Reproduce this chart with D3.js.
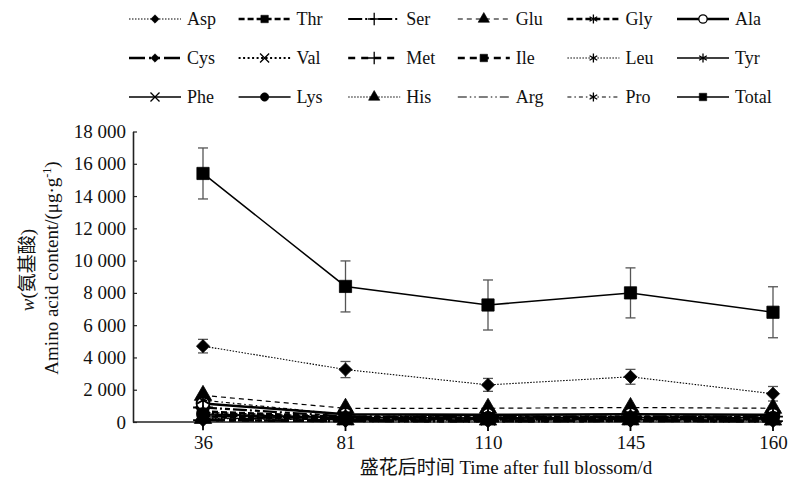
<!DOCTYPE html>
<html>
<head>
<meta charset="utf-8">
<script src="https://cdn.jsdelivr.net/npm/d3@7"></script>
<style>
  body { margin: 0; background: #fff; }
  text { font-family: "Liberation Serif", "Noto Sans CJK SC", serif; fill: #111; }
</style>
</head>
<body>
<div id="chart"></div>
<script>
// days after full blossom
const days = ["36", "81", "110", "145", "160"];
const yTicks = [0, 2000, 4000, 6000, 8000, 10000, 12000, 14000, 16000, 18000];

// amino acid content, ug/g
const asp = [4700, 3250, 2300, 2800, 1750];
const aspErr = [420, 500, 400, 460, 450];
const thr = [650, 300, 260, 300, 270];
const ser = [900, 350, 320, 360, 330];
const glu = [1650, 850, 850, 900, 850];
const gly = [350, 180, 170, 190, 170];
const ala = [1150, 480, 440, 480, 450];
const cys = [120, 60, 50, 60, 55];
const val = [550, 300, 280, 300, 290];
const met = [110, 60, 55, 60, 55];
const ile = [400, 230, 210, 230, 220];
const leu = [600, 330, 300, 330, 310];
const tyr = [250, 140, 130, 140, 130];
const phe = [450, 260, 240, 260, 250];
const lys = [500, 280, 260, 280, 270];
const his = [220, 130, 120, 130, 120];
const arg = [380, 200, 190, 200, 190];
const pro = [1350, 460, 420, 470, 440];
const total = [15400, 8400, 7250, 8000, 6800];
const totalErr = [1580, 1580, 1550, 1550, 1580];

const names = ["Asp", "Thr", "Ser", "Glu", "Gly", "Ala", "Cys", "Val", "Met",
               "Ile", "Leu", "Tyr", "Phe", "Lys", "His", "Arg", "Pro", "Total"];
const values = [asp, thr, ser, glu, gly, ala, cys, val, met,
                ile, leu, tyr, phe, lys, his, arg, pro, total];
const errors = { Asp: aspErr, Total: totalErr };

// line + marker style per series
const styles = {
  Asp:   { w: 1.1, dash: "1.5,1.5", sym: d3.symbolDiamond2, fill: true },
  Thr:   { w: 2.6, dash: "6,3", sym: d3.symbolSquare, fill: true },
  Ser:   { w: 2.2, dash: "14,3,2,3,5,3", sym: d3.symbolPlus, fill: false },
  Glu:   { w: 1.2, dash: "5,4", sym: d3.symbolTriangle, fill: true },
  Gly:   { w: 2.6, dash: "6,3", sym: d3.symbolAsterisk, fill: false },
  Ala:   { w: 2.6, dash: null, sym: d3.symbolCircle, fill: false },
  Cys:   { w: 2.6, dash: "16,4,2,4,5,4", sym: d3.symbolDiamond2, fill: true },
  Val:   { w: 2, dash: "2,2.5", sym: d3.symbolTimes, fill: false },
  Met:   { w: 2.6, dash: "7,6", sym: d3.symbolPlus, fill: false },
  Ile:   { w: 2.6, dash: "7,5", sym: d3.symbolSquare, fill: true },
  Leu:   { w: 1.1, dash: "1.5,1.5", sym: d3.symbolAsterisk, fill: false },
  Tyr:   { w: 1.3, dash: null, sym: d3.symbolAsterisk, fill: false },
  Phe:   { w: 1.3, dash: null, sym: d3.symbolTimes, fill: false },
  Lys:   { w: 1.3, dash: null, sym: d3.symbolCircle, fill: true },
  His:   { w: 1.1, dash: "1.5,1.5", sym: d3.symbolTriangle, fill: true },
  Arg:   { w: 1.2, dash: "9,3,1.5,3,1.5,3", sym: null, fill: false },
  Pro:   { w: 1.2, dash: "4,3,1.5,3", sym: d3.symbolAsterisk, fill: false },
  Total: { w: 1.5, dash: null, sym: d3.symbolSquare, fill: true }
};

const width = 800, height = 482;
const svg = d3.select("#chart").append("svg")
  .attr("width", width).attr("height", height);

const x = d3.scalePoint().domain(days).range([203, 773]);
const y = d3.scaleLinear().domain([0, 18000]).range([422, 131.5]);
const fmt = d3.formatLocale({ decimal: ".", thousands: " ", grouping: [3], currency: ["", ""] }).format(",");

// axes
const yAxis = svg.append("g")
  .attr("transform", "translate(133,0)")
  .call(d3.axisLeft(y).tickValues(yTicks).tickFormat(fmt).tickSizeInner(-4).tickSizeOuter(0).tickPadding(7));
yAxis.select(".domain").attr("stroke", "#222").attr("stroke-width", 1.6);
yAxis.selectAll(".tick line").attr("stroke", "#222").attr("stroke-width", 1.2);
yAxis.selectAll("text").style("font-size", "19px").attr("fill", "#111");

svg.append("line")
  .attr("x1", 133).attr("x2", 782).attr("y1", y(0)).attr("y2", y(0))
  .attr("stroke", "#222").attr("stroke-width", 1.6);

const xAxis = svg.append("g")
  .attr("transform", `translate(0,${y(0)})`)
  .call(d3.axisBottom(x).tickSize(0).tickPadding(14));
xAxis.select(".domain").remove();
xAxis.selectAll("text").style("font-size", "19px").attr("fill", "#111");

// axis titles
svg.append("text")
  .attr("x", 506).attr("y", 474).attr("text-anchor", "middle")
  .style("font-size", "19px")
  .text("盛花后时间 Time after full blossom/d");

const t1 = svg.append("text")
  .attr("transform", "translate(34,270) rotate(-90)")
  .attr("text-anchor", "middle").style("font-size", "19px");
t1.append("tspan").style("font-style", "italic").text("w");
t1.append("tspan").text("(氨基酸)");

const t2 = svg.append("text")
  .attr("transform", "translate(58,268) rotate(-90)")
  .attr("text-anchor", "middle").style("font-size", "19px");
t2.append("tspan").text("Amino acid content/(μg·g");
t2.append("tspan").attr("dy", -7).style("font-size", "12px").text("-1");
t2.append("tspan").attr("dy", 7).text(")");

// series
const line = d3.line().x((d, i) => x(days[i])).y(d => y(d));
const plot = svg.append("g");

function symbolPath(sym, size) {
  return d3.symbol().type(sym).size(size)();
}

names.forEach((name, k) => {
  const st = styles[name];
  const vals = values[k];
  const g = plot.append("g");
  g.append("path")
    .datum(vals)
    .attr("d", line)
    .attr("fill", "none")
    .attr("stroke", "#000")
    .attr("stroke-width", st.w)
    .attr("stroke-dasharray", st.dash);

  if (errors[name]) {
    const err = errors[name];
    vals.forEach((v, i) => {
      const cx = x(days[i]);
      const eg = g.append("g").attr("stroke", "#555").attr("stroke-width", 1.3);
      eg.append("line").attr("x1", cx).attr("x2", cx).attr("y1", y(v - err[i])).attr("y2", y(v + err[i]));
      eg.append("line").attr("x1", cx - 5).attr("x2", cx + 5).attr("y1", y(v - err[i])).attr("y2", y(v - err[i]));
      eg.append("line").attr("x1", cx - 5).attr("x2", cx + 5).attr("y1", y(v + err[i])).attr("y2", y(v + err[i]));
    });
  }

  if (st.sym) {
    let size = 130;
    if (name === "Total") size = 150;
    if (st.sym === d3.symbolDiamond2) size = 110;
    g.selectAll(".m")
      .data(vals)
      .join("path")
      .attr("transform", (d, i) => `translate(${x(days[i])},${y(d)})`)
      .attr("d", symbolPath(st.sym, size))
      .attr("fill", st.fill ? "#000" : "#fff")
      .attr("stroke", "#000")
      .attr("stroke-width", st.fill ? 0.8 : 1.8);
  }
});

// legend: 6 columns x 3 rows
const legend = svg.append("g");
names.forEach((name, k) => {
  const st = styles[name];
  const col = k % 6, row = Math.floor(k / 6);
  const lx = 129 + col * 109.6;
  const ly = [19, 58, 97][row];
  const g = legend.append("g").attr("transform", `translate(${lx},${ly})`);
  g.append("line")
    .attr("x1", 0).attr("x2", 52).attr("y1", 0).attr("y2", 0)
    .attr("stroke", "#000")
    .attr("stroke-width", st.w)
    .attr("stroke-dasharray", st.dash);
  if (st.sym) {
    g.append("path")
      .attr("transform", "translate(26,0)")
      .attr("d", symbolPath(st.sym, st.sym === d3.symbolDiamond2 ? 45 : 55))
      .attr("fill", st.fill ? "#000" : "#fff")
      .attr("stroke", "#000")
      .attr("stroke-width", st.fill ? 0.6 : 1.3);
  }
  g.append("text")
    .attr("x", 58).attr("y", 6)
    .style("font-size", "18px")
    .text(name);
});
</script>
</body>
</html>
